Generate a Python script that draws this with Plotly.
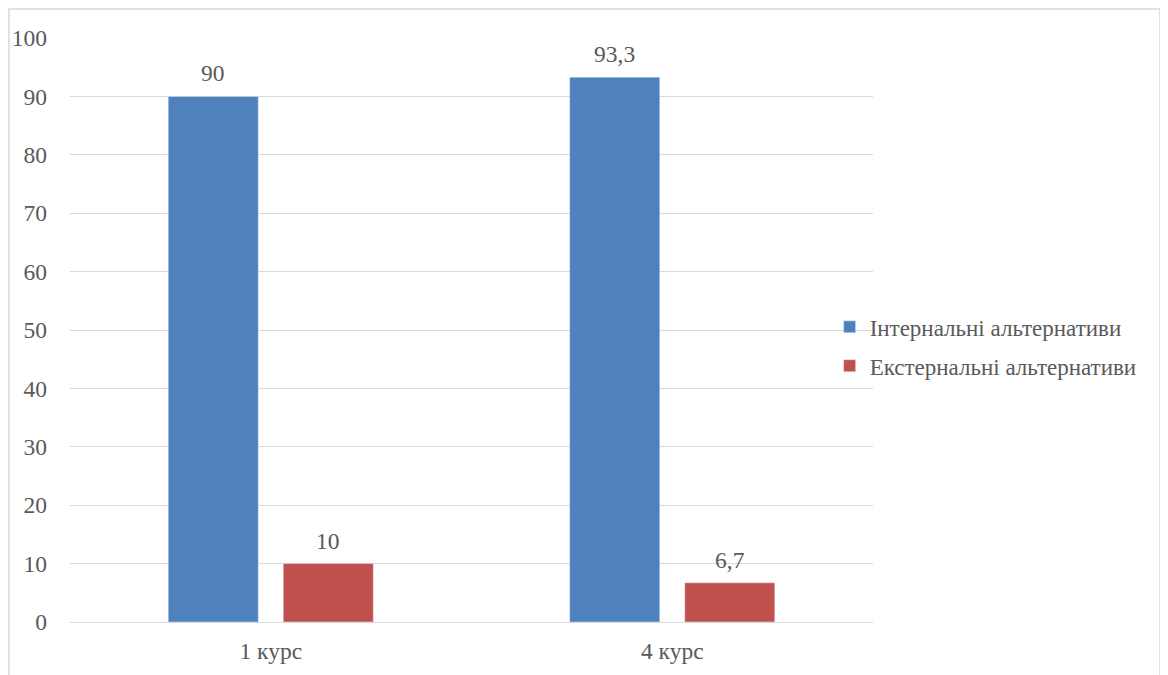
import plotly.graph_objects as go

categories = ["1 курс", "4 курс"]
internal = [90, 93.3]
external = [10, 6.7]
internal_labels = ["90", "93,3"]
external_labels = ["10", "6,7"]
series_names = ["Інтернальні альтернативи", "Екстернальні альтернативи"]

FONT = "Times New Roman"
TXT = "#595959"
FS = 23.5

fig = go.Figure()
fig.add_trace(go.Bar(x=categories, y=internal, name=series_names[0], legendgroup="a",
                     marker=dict(color="#4F81BD")))
fig.add_trace(go.Bar(x=categories, y=external, name=series_names[1], legendgroup="b",
                     marker=dict(color="#C0504D")))

# data labels
for vals, labels, xs in [(internal, internal_labels, -57.5), (external, external_labels, 57.5)]:
    for c, v, t in zip(categories, vals, labels):
        fig.add_annotation(x=c, y=v, text=t, showarrow=False, xshift=xs,
                           yanchor="bottom", yshift=8,
                           font=dict(family=FONT, size=FS, color=TXT))

fig.update_layout(
    width=1168, height=675,
    margin=dict(l=62, r=303, t=30, b=61, autoexpand=False),
    paper_bgcolor="white", plot_bgcolor="white",
    barmode="group", bargap=0.427, bargroupgap=0.217,
    font=dict(family=FONT, size=FS, color=TXT),
    showlegend=True,
    legend=dict(x=0.946, y=0.472, xanchor="left", yanchor="middle",
                font=dict(family=FONT, size=23, color=TXT), traceorder="grouped",
                bgcolor="rgba(0,0,0,0)", tracegroupgap=6),
)
fig.update_yaxes(range=[0, 100], dtick=10, showgrid=True, gridcolor="#d9d9d9",
                 gridwidth=1, zeroline=True, zerolinecolor="#d9d9d9", zerolinewidth=1,
                 showline=False, ticks="", ticklabelstandoff=22, automargin=False,
                 tickfont=dict(family=FONT, size=FS, color=TXT))
fig.update_xaxes(showline=False, ticks="", ticklabelstandoff=12, automargin=False,
                 tickfont=dict(family=FONT, size=FS, color=TXT))

fig.add_shape(type="rect", xref="paper", yref="paper",
              x0=(1 - 62) / 803, x1=(1152 - 62) / 803,
              y0=(614 - 690) / 584, y1=(614 - 1) / 584,
              line=dict(color="#d9d9d9", width=1.5), fillcolor="rgba(0,0,0,0)", layer="above")

fig.write_html("out.html")
